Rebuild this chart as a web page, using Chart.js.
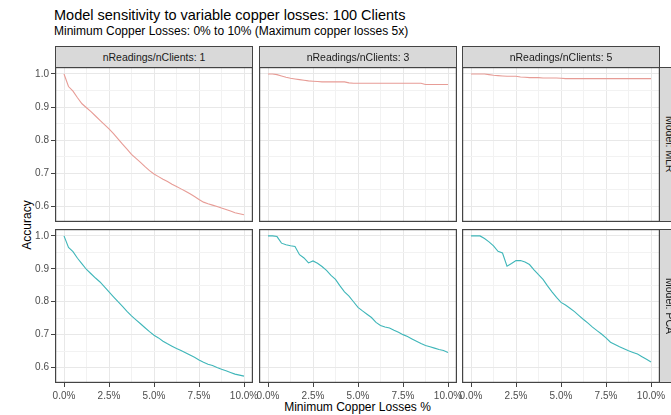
<!DOCTYPE html>
<html>
<head>
<meta charset="utf-8">
<script src="https://cdn.jsdelivr.net/npm/chart.js@4.4.1/dist/chart.umd.min.js"></script>
<style>
  html, body { margin: 0; padding: 0; background: #ffffff; }
  body { width: 671px; height: 415px; position: relative; overflow: hidden;
         font-family: "Liberation Sans", Arial, sans-serif; }
  canvas { position: absolute; }
  .txt { position: absolute; white-space: nowrap; color: #000; }
  .strip { position: absolute; box-sizing: border-box; background: #D9D9D9;
           border: 1px solid #444444; display: flex; align-items: center;
           justify-content: center; font-size: 10.5px; color: #1A1A1A; white-space: nowrap; overflow: hidden; }
  .strip.side span { writing-mode: vertical-rl; }
</style>
</head>
<body>
<div class="txt" style="left:54px; top:8px; font-size:14.5px; line-height:14.5px;">Model sensitivity to variable copper losses: 100 Clients</div>
<div class="txt" style="left:54px; top:25px; font-size:12px; line-height:12px;">Minimum Copper Losses: 0% to 10% (Maximum copper losses 5x)</div>
<div class="txt" style="left:357.5px; top:401px; font-size:12px; line-height:12px; transform:translateX(-50%);">Minimum Copper Losses %</div>
<div class="txt" style="left:27px; top:225px; font-size:12px; line-height:12px; transform:translate(-50%,-50%) rotate(-90deg);">Accuracy</div>
<div id="stage"></div>

<script>
// Minimum copper losses (%) at which accuracy was evaluated
const lossPct = [0, 0.25, 0.5, 0.75, 1, 1.25, 1.5, 1.75, 2, 2.25, 2.5, 2.75, 3, 3.25, 3.5, 3.75, 4,
  4.25, 4.5, 4.75, 5, 5.25, 5.5, 5.75, 6, 6.25, 6.5, 6.75, 7, 7.25, 7.5, 7.75, 8, 8.25, 8.5, 8.75,
  9, 9.25, 9.5, 9.75, 10];

// Column facets: nReadings/nClients
const readingRatios = [1, 3, 5];
// Row facets: model
const models = ['MLR', 'PCA'];

// Accuracy, MLR model, one series per readings ratio
const mlrRatio1 = [1.000, 0.962, 0.948, 0.928, 0.910, 0.898, 0.886, 0.873, 0.860, 0.847, 0.834, 0.820,
  0.804, 0.788, 0.773, 0.757, 0.745, 0.733, 0.720, 0.708, 0.698, 0.690, 0.682, 0.675, 0.667, 0.660,
  0.653, 0.646, 0.638, 0.630, 0.621, 0.613, 0.608, 0.604, 0.600, 0.595, 0.591, 0.586, 0.581, 0.578, 0.575];
const mlrRatio3 = [1.000, 1.000, 0.998, 0.994, 0.990, 0.987, 0.985, 0.983, 0.981, 0.979, 0.978, 0.977,
  0.976, 0.976, 0.976, 0.976, 0.976, 0.976, 0.973, 0.972, 0.972, 0.972, 0.972, 0.972, 0.972, 0.972,
  0.972, 0.972, 0.972, 0.972, 0.972, 0.972, 0.972, 0.972, 0.972, 0.968, 0.968, 0.968, 0.968, 0.968, 0.968];
const mlrRatio5 = [1.000, 1.000, 1.000, 1.000, 0.998, 0.996, 0.995, 0.994, 0.993, 0.993, 0.993, 0.991,
  0.990, 0.989, 0.989, 0.989, 0.988, 0.988, 0.988, 0.988, 0.987, 0.986, 0.986, 0.986, 0.986, 0.986,
  0.986, 0.986, 0.986, 0.986, 0.986, 0.986, 0.986, 0.986, 0.986, 0.986, 0.986, 0.986, 0.986, 0.986, 0.986];

// Accuracy, PCA model
const pcaRatio1 = [1.000, 0.965, 0.952, 0.932, 0.915, 0.898, 0.885, 0.872, 0.860, 0.845, 0.830, 0.815,
  0.800, 0.786, 0.771, 0.757, 0.745, 0.733, 0.721, 0.709, 0.698, 0.690, 0.680, 0.672, 0.665, 0.658,
  0.652, 0.645, 0.638, 0.631, 0.623, 0.616, 0.610, 0.606, 0.600, 0.595, 0.590, 0.585, 0.580, 0.577, 0.574];
const pcaRatio3 = [1.000, 1.000, 0.998, 0.978, 0.973, 0.970, 0.968, 0.943, 0.933, 0.918, 0.924, 0.917,
  0.907, 0.895, 0.880, 0.868, 0.848, 0.830, 0.817, 0.800, 0.783, 0.772, 0.762, 0.752, 0.737, 0.728,
  0.723, 0.720, 0.713, 0.707, 0.700, 0.694, 0.687, 0.680, 0.673, 0.667, 0.663, 0.659, 0.655, 0.652, 0.646];
const pcaRatio5 = [1.000, 1.000, 1.000, 0.992, 0.982, 0.970, 0.953, 0.948, 0.908, 0.916, 0.925, 0.925,
  0.921, 0.913, 0.897, 0.882, 0.868, 0.848, 0.830, 0.813, 0.798, 0.790, 0.780, 0.770, 0.758, 0.746,
  0.735, 0.723, 0.712, 0.702, 0.690, 0.677, 0.670, 0.663, 0.657, 0.651, 0.646, 0.641, 0.633, 0.625, 0.617];

// Axis breaks
const xMajorTicks = [0, 2.5, 5, 7.5, 10];
const xMajorLabels = ['0.0%', '2.5%', '5.0%', '7.5%', '10.0%'];
const xMinorTicks = [1.25, 3.75, 6.25, 8.75];
const yMajorTicks = [0.6, 0.7, 0.8, 0.9, 1.0];
const yMajorLabels = ['0.6', '0.7', '0.8', '0.9', '1.0'];
const yMinorTicks = [0.65, 0.75, 0.85, 0.95];

const seriesByModel = {
  MLR: [mlrRatio1, mlrRatio3, mlrRatio5],
  PCA: [pcaRatio1, pcaRatio3, pcaRatio5]
};
const modelColors = { MLR: '#E79C96', PCA: '#3FB6B9' };

// Facet grid geometry
const colX = [55, 259, 462];
const panelW = 198;
const rowY = [67, 229];
const panelH = [155, 154];
const stripH = 21;
const AX_L = 45, AX_B = 26, PAD_T = 8, PAD_R = 16;

Chart.defaults.font.family = '"Liberation Sans", Arial, sans-serif';
Chart.defaults.animation = false;

const panelBorder = {
  id: 'panelBorder',
  afterDraw(chart) {
    const a = chart.chartArea, c = chart.ctx;
    c.save();
    c.strokeStyle = '#444444';
    c.lineWidth = 1.2;
    c.strokeRect(a.left + 0.6, a.top + 0.6, a.right - a.left - 1.2, a.bottom - a.top - 1.2);
    c.restore();
  }
};

const stage = document.getElementById('stage');

function addStrip(x, y, w, h, text, side) {
  const d = document.createElement('div');
  d.className = 'strip' + (side ? ' side' : '');
  d.style.left = x + 'px'; d.style.top = y + 'px';
  d.style.width = w + 'px'; d.style.height = h + 'px';
  const s = document.createElement('span');
  s.textContent = text;
  d.appendChild(s);
  document.body.appendChild(d);
}

models.forEach((model, r) => {
  readingRatios.forEach((ratio, c) => {
    const showY = c === 0, showX = r === models.length - 1;
    const cv = document.createElement('canvas');
    const w = panelW + AX_L + PAD_R, h = panelH[r] + PAD_T + AX_B;
    cv.width = w; cv.height = h;
    cv.style.left = (colX[c] - AX_L) + 'px';
    cv.style.top = (rowY[r] - PAD_T) + 'px';
    cv.style.width = w + 'px'; cv.style.height = h + 'px';
    stage.appendChild(cv);

    const values = seriesByModel[model][c];
    const xMajSet = new Set(xMajorTicks), yMajSet = new Set(yMajorTicks);

    new Chart(cv, {
      type: 'line',
      data: {
        datasets: [{
          data: lossPct.map((x, i) => ({ x: x, y: values[i] })),
          borderColor: modelColors[model],
          borderWidth: 1.1,
          pointRadius: 0,
          tension: 0,
          fill: false
        }]
      },
      options: {
        responsive: false,
        devicePixelRatio: 1,
        layout: { padding: { left: 0, top: PAD_T, right: PAD_R, bottom: 0 } },
        plugins: { legend: { display: false }, tooltip: { enabled: false } },
        scales: {
          x: {
            type: 'linear', min: -0.5, max: 10.5,
            afterBuildTicks: s => { s.ticks = xMajorTicks.concat(xMinorTicks).sort((a, b) => a - b).map(v => ({ value: v })); },
            afterFit: s => { s.height = AX_B; s.paddingLeft = 0; s.paddingRight = 0; },
            border: { display: false },
            grid: {
              drawTicks: showX, tickLength: 4,
              color: ctx => xMajSet.has(ctx.tick.value) ? '#E8E8E8' : '#F2F2F2',
              lineWidth: 1,
              tickColor: ctx => xMajSet.has(ctx.tick.value) ? '#444444' : 'rgba(0,0,0,0)'
            },
            ticks: {
              display: showX, autoSkip: false, maxRotation: 0, minRotation: 0, padding: 3,
              color: '#4D4D4D', font: { size: 10 },
              callback: v => { const i = xMajorTicks.indexOf(v); return i >= 0 ? xMajorLabels[i] : ''; }
            }
          },
          y: {
            type: 'linear', min: 0.553, max: 1.021,
            afterBuildTicks: s => { s.ticks = yMajorTicks.concat(yMinorTicks).sort((a, b) => a - b).map(v => ({ value: v })); },
            afterFit: s => { s.width = AX_L; s.paddingTop = 0; s.paddingBottom = 0; },
            border: { display: false },
            grid: {
              drawTicks: showY, tickLength: 4,
              color: ctx => yMajSet.has(ctx.tick.value) ? '#E8E8E8' : '#F2F2F2',
              lineWidth: 1,
              tickColor: ctx => yMajSet.has(ctx.tick.value) ? '#444444' : 'rgba(0,0,0,0)'
            },
            ticks: {
              display: showY, autoSkip: false, padding: 2,
              color: '#4D4D4D', font: { size: 10 },
              callback: v => { const i = yMajorTicks.indexOf(v); return i >= 0 ? yMajorLabels[i] : ''; }
            }
          }
        }
      },
      plugins: [panelBorder]
    });

    if (r === 0) addStrip(colX[c], rowY[0] - stripH, panelW, stripH + 1, 'nReadings/nClients: ' + ratio, false);
  });
  addStrip(colX[2] + panelW - 1, rowY[r], stripH, panelH[r], 'Model: ' + model, true);
});
</script>
</body>
</html>
